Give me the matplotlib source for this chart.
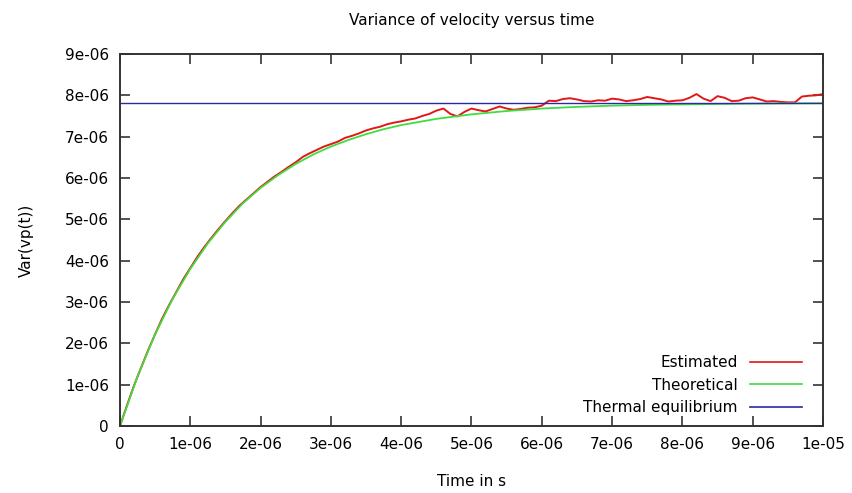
import matplotlib
matplotlib.use("Agg")
import matplotlib.pyplot as plt
from matplotlib.ticker import FuncFormatter

# ---- data (values in units of 1e-6) ----
t_est = [i / 10 for i in range(101)]  # time, microseconds
var_est = [0.00, 0.50, 0.98, 1.41, 1.83, 2.22, 2.60, 2.93, 3.24, 3.55,
           3.82, 4.09, 4.33, 4.55, 4.76, 4.96, 5.15, 5.33, 5.48, 5.63,
           5.78, 5.91, 6.04, 6.15, 6.27, 6.38, 6.51, 6.60, 6.68, 6.76,
           6.82, 6.88, 6.97, 7.02, 7.08, 7.15, 7.20, 7.24, 7.30, 7.34,
           7.37, 7.41, 7.44, 7.50, 7.55, 7.63, 7.68, 7.55, 7.49, 7.60,
           7.68, 7.64, 7.61, 7.67, 7.73, 7.68, 7.65, 7.67, 7.70, 7.71,
           7.75, 7.87, 7.86, 7.91, 7.93, 7.90, 7.86, 7.85, 7.88, 7.87,
           7.92, 7.90, 7.86, 7.88, 7.91, 7.96, 7.93, 7.90, 7.85, 7.87,
           7.88, 7.94, 8.03, 7.92, 7.86, 7.98, 7.94, 7.86, 7.87, 7.93,
           7.95, 7.90, 7.85, 7.86, 7.84, 7.83, 7.83, 7.97, 7.99, 8.00,
           8.03]

t_theo = [0, 0.25, 0.5, 0.75, 1.0, 1.25, 1.5, 1.75, 2.0, 2.25, 2.5, 2.75,
          3.0, 3.25, 3.5, 3.75, 4.0, 4.5, 5.0, 5.5, 6.0, 6.5, 7.0, 7.5,
          8.0, 9.0, 10.0]
var_theo = [0.00, 1.20, 2.22, 3.08, 3.80, 4.42, 4.94, 5.39, 5.76, 6.07,
            6.34, 6.57, 6.76, 6.92, 7.06, 7.18, 7.28, 7.43, 7.54, 7.62,
            7.68, 7.72, 7.75, 7.77, 7.78, 7.80, 7.81]

var_eq = 7.82

RED = "#e01818"
GREEN = "#40dc40"
BLUE = "#2a2aa8"
FRAME = "#333333"


def sci(v, pos):
    if abs(v) < 1e-12:
        return "0"
    return "%.0e" % v


plt.rcParams["font.family"] = ["DejaVu Sans"]

fig = plt.figure(figsize=(8.52, 4.93), dpi=100)
ax = fig.add_axes([0.1408, 0.1359, 0.8252, 0.7546])

s = 1e-6
ax.plot([x * s for x in t_est], [v * s for v in var_est], color=RED, lw=1.4,
        label="Estimated")
ax.plot([x * s for x in t_theo], [v * s for v in var_theo], color=GREEN, lw=1.3,
        label="Theoretical")
ax.axhline(var_eq * s, color=BLUE, lw=1.0, label="Thermal equilibrium")

ax.set_xlim(0, 1e-5)
ax.set_ylim(0, 9e-6)
ax.set_xticks([i * 1e-6 for i in range(11)])
ax.set_yticks([i * 1e-6 for i in range(10)])
ax.xaxis.set_major_formatter(FuncFormatter(sci))
ax.yaxis.set_major_formatter(FuncFormatter(sci))
ax.tick_params(direction="in", length=7, width=1.2, color=FRAME,
               top=True, right=True, labelsize=11, pad=8)
for sp in ax.spines.values():
    sp.set_color(FRAME)
    sp.set_linewidth(1.4)

ax.set_title("Variance of velocity versus time", fontsize=11, pad=21)
ax.set_xlabel("Time in s", fontsize=11, labelpad=16)
ax.set_ylabel("Var(vp(t))", fontsize=11, labelpad=22)

leg = ax.legend(loc="lower right", frameon=False, markerfirst=False,
                fontsize=11, handlelength=3.4, labelspacing=0.5,
                borderaxespad=0.3, bbox_to_anchor=(0.985, 0.0))
for ln in leg.get_lines():
    ln.set_linewidth(1.2)
leg._legend_box.align = "right"

fig.savefig("out.png", dpi=100)
